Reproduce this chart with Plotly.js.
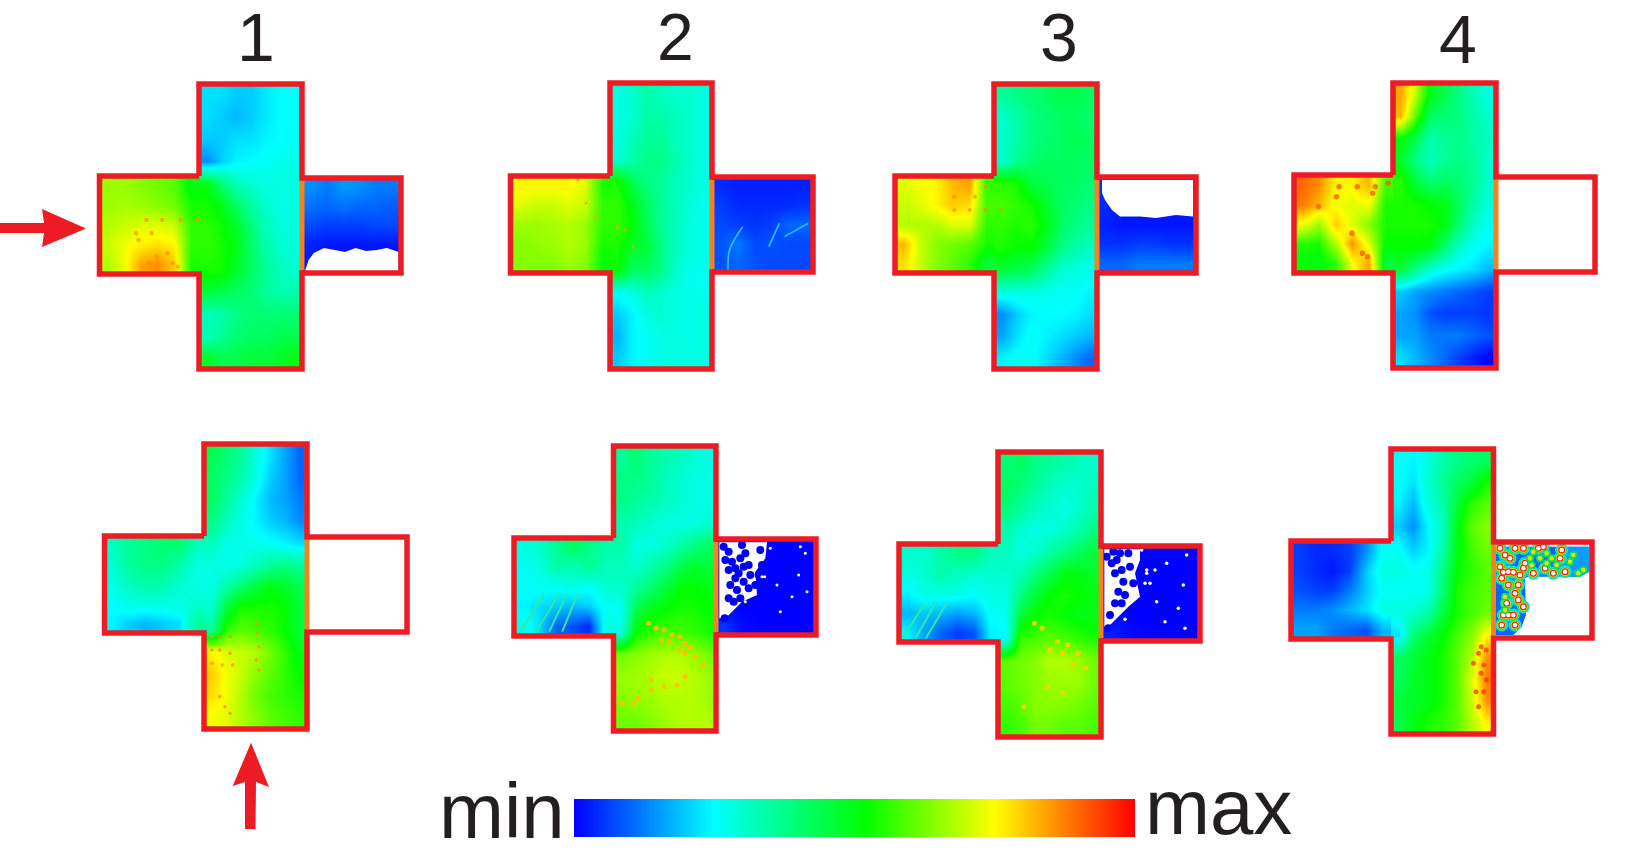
<!DOCTYPE html>
<html><head><meta charset="utf-8">
<script src="https://cdn.plot.ly/plotly-3.0.1.min.js"></script>
<style>html,body{margin:0;padding:0;background:#fff}#chart{width:1630px;height:864px}</style>
</head><body><div id="chart"></div>
<script>
// Field intensity, 0 = min, 100 = max. Rows run top to bottom.
const c1Vert=[[22,22,20,20,23,25,25],[22,20,18,20,23,25,25],[20,20,22,22,24,25,26],[14,20,24,25,26,27,27],[50,40,32,30,28,28,28],[54,50,42,35,30,28,28],[56,53,48,40,32,29,28],[56,54,50,42,34,30,29],[54,54,48,42,36,32,30],[46,44,42,40,36,34,34],[32,34,38,40,40,40,40],[32,36,40,42,42,44,44],[48,44,44,46,46,48,50]];
const c1Left=[[66,66,64,62,60,50],[66,67,66,64,62,54],[68,70,72,72,70,56],[70,74,76,78,76,56],[68,74,84,86,80,54]];
const c1Right=[[14,12,15,14,12,12],[11,10,11,10,10,9],[7,6,6,6,7,7],[3,2,2,2,2,2],[2,2,2,2,2,2]];
const c2Vert=[[28,30,34,32,30,30,28],[28,30,34,34,32,30,28],[28,32,36,36,32,30,28],[30,34,38,38,34,30,28],[54,44,38,36,32,30,28],[56,50,42,36,32,29,27],[56,52,44,36,32,28,27],[54,48,46,38,32,28,27],[52,42,42,38,30,27,27],[26,28,32,30,28,27,27],[20,24,28,30,28,27,28],[18,24,26,28,28,27,28],[20,24,26,28,28,28,28]];
const c2Left=[[76,76,76,76,72,54],[72,70,70,72,70,56],[66,66,67,68,66,56],[64,65,66,68,66,54],[64,64,64,66,64,52]];
const c2Right=[[4,3,3,3,3,3],[6,4,4,4,4,5],[7,6,5,6,10,10],[8,12,7,8,7,7],[8,10,8,7,7,7]];
const c3Vert=[[36,38,40,42,44,44,42],[30,34,38,40,42,42,40],[30,34,38,40,42,44,42],[30,36,40,42,42,42,42],[56,54,46,44,42,42,40],[58,56,54,48,42,40,38],[56,54,56,50,42,38,36],[54,52,52,46,38,34,32],[46,44,42,36,30,28,27],[28,28,28,27,26,26,24],[14,20,24,25,25,24,22],[16,22,26,24,22,20,18],[24,26,26,22,18,14,10]];
const c3Left=[[72,74,76,82,84,56],[70,72,76,80,78,58],[68,68,68,72,72,56],[82,70,64,62,60,54],[78,70,64,60,56,46]];
const c3Right=[[4,4,4,4,4,4],[4,3,3,3,3,3],[3,2,2,2,2,2],[5,5,6,6,5,5],[10,10,12,12,12,12]];
const c4Vert=[[84,70,50,44,38,32,28],[82,60,42,40,38,34,30],[52,44,34,36,38,34,32],[48,38,32,36,38,36,30],[56,46,40,42,40,36,30],[54,54,52,50,42,34,28],[54,54,54,50,40,30,26],[52,52,50,40,30,26,24],[46,38,30,26,24,22,18],[20,16,14,12,10,8,6],[16,14,8,6,6,6,5],[16,16,12,12,12,10,8],[22,18,14,10,6,3,0]];
const c4Left=[[90,86,76,76,82,58],[88,82,74,72,74,54],[74,66,80,72,64,54],[55,54,68,86,72,52],[52,50,56,74,84,46]];
const c5Vert=[[44,40,36,28,22,16,10],[42,38,34,28,20,16,10],[42,36,30,24,18,16,12],[38,32,28,24,20,18,14],[32,28,27,27,26,24,22],[28,27,28,32,36,38,36],[28,34,40,46,50,48,44],[30,46,54,54,54,52,46],[36,56,60,58,56,52,46],[76,72,70,68,62,56,50],[80,74,70,64,60,56,52],[78,74,68,62,58,56,54],[74,72,68,64,60,58,56]];
const c5Left=[[32,36,38,40,40,32],[30,36,38,38,34,28],[28,32,34,34,30,28],[25,28,28,28,28,30],[24,20,18,20,22,36]];
const c6Vert=[[36,40,36,34,32,30,28],[38,38,36,32,30,28,28],[38,36,34,32,30,28,28],[34,32,30,28,28,28,30],[34,28,28,30,34,38,42],[32,30,34,38,44,48,46],[30,36,40,46,52,52,50],[26,44,50,52,54,54,52],[28,52,56,58,58,56,54],[62,64,66,68,68,66,62],[66,66,68,70,70,68,66],[64,66,66,68,68,68,66],[62,62,64,66,68,68,68]];
const c6Left=[[28,30,36,42,38,34],[26,28,34,32,36,32],[26,26,26,28,26,30],[24,22,20,18,20,26],[28,22,10,8,4,28]];
const c6Right=[[0,0,0,0,0,0],[0,0,0,0,0,0],[0,0,0,0,0,0],[0,0,0,0,0,0],[5,1,0,0,0,0]];
const c7Vert=[[40,42,38,36,34,32,30],[42,40,36,32,30,30,32],[40,36,32,30,28,30,34],[34,30,28,28,30,34,38],[32,28,30,34,38,42,46],[30,32,38,44,50,50,48],[28,38,46,52,54,52,50],[26,46,52,54,52,50,50],[24,56,58,60,58,56,54],[60,62,64,68,68,66,62],[60,62,64,66,66,66,62],[58,60,64,64,64,62,60],[56,58,62,62,60,60,58]];
const c7Left=[[30,30,34,38,38,32],[28,30,34,32,30,30],[24,28,28,28,26,28],[18,20,18,16,18,26],[24,16,10,6,8,24]];
const c7Right=[[0,0,0,0,0,0],[0,0,0,0,0,0],[0,0,0,0,0,0],[0,0,0,0,0,0],[3,1,0,0,0,0]];
const c8Vert=[[26,24,28,34,38,40,42],[26,22,30,36,42,46,54],[24,18,28,34,46,56,60],[20,14,24,32,50,60,64],[26,20,24,34,50,58,62],[28,26,27,38,52,56,60],[26,26,27,40,54,58,60],[28,30,34,46,54,58,62],[22,40,46,52,58,64,76],[42,46,50,54,60,68,86],[42,48,50,54,60,72,88],[46,48,50,54,60,70,86],[44,50,54,56,60,68,76]];
const c8Left=[[6,4,4,6,14,26],[6,4,2,6,20,28],[8,6,6,12,20,26],[12,12,14,18,22,28],[16,16,12,10,8,18]];
const columnLabels=['1','2','3','4'];
const scaleLabels=['min','max'];

// Frame geometry of the eight crosses, in image pixels.
const crosses=[
 {l:99.5,vl:199,vr:302,r:401,t:84,b:369,ht:176,hb:274,rt:178,rb:273,vert:c1Vert,left:c1Left,right:c1Right},
 {l:510.5,vl:610,vr:712,r:813,t:83,b:369,ht:176,hb:273,rt:177,rb:272,vert:c2Vert,left:c2Left,right:c2Right},
 {l:895,vl:994,vr:1097,r:1196,t:84,b:369,ht:176,hb:273,rt:177,rb:273,vert:c3Vert,left:c3Left,right:c3Right},
 {l:1294,vl:1393,vr:1496,r:1595,t:83,b:368,ht:175,hb:273,rt:177,rb:272,vert:c4Vert,left:c4Left,right:null},
 {l:104.5,vl:204,vr:307,r:407,t:444,b:729,ht:536,hb:633,rt:537,rb:632,vert:c5Vert,left:c5Left,right:null},
 {l:514,vl:613.5,vr:716,r:816,t:446,b:731,ht:538,hb:636,rt:539,rb:635,vert:c6Vert,left:c6Left,right:c6Right},
 {l:899,vl:998,vr:1101,r:1200,t:452,b:737,ht:544,hb:642,rt:546,rb:641,vert:c7Vert,left:c7Left,right:c7Right},
 {l:1291,vl:1391,vr:1493.5,r:1592,t:449,b:734,ht:541,hb:639,rt:542,rb:638,vert:c8Vert,left:c8Left,right:null}
];
const RED='#ed1c24', ORANGE='#f58220', BLUE='#0000f0';
const traces=[];
function heat(z,x1,x2,y1,y2){
  const nr=z.length,nc=z[0].length,dx=(x2-x1)/nc,dy=(y2-y1)/nr;
  traces.push({type:'heatmap',z:z,x0:x1+dx/2,dx:dx,y0:y1+dy/2,dy:dy,zsmooth:'best',coloraxis:'coloraxis',hoverinfo:'skip'});
}
crosses.forEach(c=>{
  heat(c.vert,c.vl,c.vr,c.t,c.b);
  heat(c.left,c.l,c.vl,c.ht,c.hb);
  if(c.right) heat(c.right,c.vr,c.r,c.rt,c.rb);
});
function poly(xs,ys,fill){traces.push({type:'scatter',mode:'lines',x:xs,y:ys,fill:'toself',fillcolor:fill,line:{width:0,color:fill},hoverinfo:'skip'});}
function line(xs,ys,color,w){traces.push({type:'scatter',mode:'lines',x:xs,y:ys,line:{color:color,width:w,shape:'spline'},hoverinfo:'skip'});}
function dots(pts,color,size,op,sx,x0,sy,y0){
  traces.push({type:'scatter',mode:'markers',x:pts.map(p=>x0+p[0]/sx),y:pts.map(p=>y0+p[1]/sy),marker:{color:color,size:size,opacity:op,line:{width:0}},hoverinfo:'skip'});
}
const crop=[[1.912,0,3,0],[1.936,820,3,0],[1.912,0,3,420],[1.936,820,3,420]];
function cropDots(pts,color,size,op,i){dots(pts,color,size,op,crop[i][0],crop[i][1],crop[i][2],crop[i][3]);}

// Speckle and ripple detail
cropDots([[280,660],[310,660],[345,660],[378,658],[260,700],[290,700],[265,720],[300,770],[330,790],[285,790],[340,800],[320,760]],'#ff9000',4.5,.7,0);
cropDots([[1120,610],[1140,650],[1180,680],[1105,540],[1145,540],[1195,690],[1210,740]],'#ffa000',3.5,.7,0);
cropDots([[260,630],[290,630],[320,630],[350,630],[260,590],[300,590],[320,560]],'#ff8c00',4,.7,1);
cropDots([[1005,560],[1040,560],[1075,560],[1100,550],[965,620],[1000,590],[1070,580],[1030,700],[1050,760],[1060,770]],'#f25a00',5.5,.75,1);
cropDots([[405,650],[420,650],[440,650],[405,690],[420,690],[440,700],[405,730],[425,735],[445,735],[490,610],[492,640],[495,680],[490,720],[495,750],[430,860],[440,880],[420,830]],'#ff9000',3.5,.8,2);
cropDots([[1240,610],[1255,625],[1270,630],[1285,645],[1300,650],[1265,660],[1280,665],[1310,670],[1320,680],[1300,690],[1330,710],[1310,700],[1345,735],[1310,770],[1295,795],[1270,800],[1245,780],[1220,835],[1245,810],[1190,850],[1210,850]],'#ffc000',5,.9,2);
cropDots([[415,610],[430,625],[460,665],[480,675],[445,690],[470,700],[500,700],[515,745],[490,735],[470,820],[395,860],[440,800]],'#ffd000',5,.9,3);
cropDots([[1280,680],[1290,690],[1285,735],[1290,780],[1270,815],[1285,815],[1275,860],[1265,730],[1275,700],[1280,760]],'#f03a00',5,.75,3);
// streaks
[[[1392,810],[1395,750],[1420,680]],[[1470,740],[1490,670]],[[1500,710],[1545,670]]].forEach(s=>
  line(s.map(p=>p[0]/1.912),s.map(p=>p[1]/3),'#30c0ff',1.6));
[[[995,635],[1040,520]],[[1025,635],[1070,520]],[[1050,635],[1085,520]],[[1075,635],[1105,520]]].forEach(s=>
  line(s.map(p=>p[0]/1.912),s.map(p=>420+p[1]/3),'#30e8a0',2));
[[[160,655],[205,545]],[[185,655],[225,545]],[[205,655],[245,550]]].forEach(s=>
  line(s.map(p=>820+p[0]/1.936),s.map(p=>420+p[1]/3),'#30e8a0',2));

// C1 white gap
poly([305,308.6,313.8,324,334.7,345,355.6,366,376.6,387,398.5,398.5,305],[271,260,253,248,250,252,248,251,250,248,252,271,271],'#ffffff');
// C3 white gap
poly([1102,1193,1193,1176,1156,1140,1120,1112,1105,1102],[180,180,216.5,215,218,216.5,216.5,210,200,193],'#ffffff');
// C6 white and blue speckle
const ox6=712,oy6=535;
poly([22,165,160,130,135,90,45,22].map(v=>ox6+v/3),[22,22,70,110,180,200,245,250].map(v=>oy6+v/3),'#ffffff');
dots([[35,35],[50,50],[40,75],[60,80],[70,100],[50,105],[90,30],[100,55],[85,70],[95,95],[80,115],[110,90],[115,120],[70,130],[95,140],[55,150],[75,165],[110,160],[50,190],[65,200],[85,190],[145,45],[150,90],[140,120],[130,150],[38,250]],BLUE,8,1,3,ox6,3,oy6);
dots([[260,120],[240,185],[195,150],[285,170],[175,40],[265,35],[150,125],[280,55],[205,230],[158,125],[100,200]],'#ffffff',3,1,3,ox6,3,oy6);
// C7 white and blue speckle
const ox7=1095,oy7=540;
poly([28,135,135,120,135,100,45,28].map(v=>ox7+v/3),[28,28,60,100,170,200,255,260].map(v=>oy7+v/3),'#ffffff');
dots([[35,50],[50,70],[65,60],[80,90],[60,100],[100,40],[75,40],[55,35],[105,80],[85,125],[70,155],[90,165],[60,190],[80,190],[115,130],[45,225],[110,210],[40,265]],BLUE,8,1,3,ox7,3,oy7);
dots([[155,90],[155,100],[180,90],[265,135],[150,130],[165,130],[185,185],[250,205],[90,238],[210,245],[270,265],[215,70],[120,175],[275,45],[140,30]],'#ffffff',3.5,1,3,ox7,3,oy7);
// C8 ring pattern
const ox8=1490,oy8=535;
poly([18,298,298,270,115,105,108,95,70,18].map(v=>ox8+v/3),[35,35,110,125,125,130,240,275,300,300].map(v=>oy8+v/3),'#0868f4');
poly([200,298,298,270,210].map(v=>ox8+v/3),[35,35,110,125,125].map(v=>oy8+v/3),'#0a9cf8');
const rings=[[60,70],[55,110],[40,112],[70,112],[55,150],[50,205],[55,240],[40,240],[70,240],[105,85],[100,100],[85,150],[90,120],[35,130],[30,95],[75,40],[45,60],[35,270],[75,270],[210,70],[165,100],[190,115],[130,115],[145,40],[215,45],[30,40],[100,40],[160,35],[75,175],[85,195],[100,215],[225,110]];
[[13,'#00e8f0'],[10.5,'#20e040'],[8.5,'#f8e800'],[7,'#f02010'],[4.5,'#ffffff']].forEach(l=>dots(rings,l[1],l[0],1,3,ox8,3,oy8));
const rippleDots=[[120,70],[150,70],[185,70],[170,55],[170,85],[240,80],[265,115],[280,105],[250,60],[45,185],[45,225],[130,50],[125,90],[200,90]];
[[8,'#00e060'],[4.5,'#f0e000']].forEach(l=>dots(rippleDots,l[1],l[0],1,3,ox8,3,oy8));

// Frames
crosses.forEach(c=>{
  traces.push({type:'scatter',mode:'lines',
    x:[c.vl,c.l,c.l,c.vl,c.vl,c.vr,c.vr,c.r,c.r,c.vr,c.vr,c.vl,c.vl],
    y:[c.ht,c.ht,c.hb,c.hb,c.b,c.b,c.rb,c.rb,c.rt,c.rt,c.t,c.t,c.ht],
    line:{color:RED,width:5.5},hoverinfo:'skip'});
  traces.push({type:'scatter',mode:'lines',x:[c.vr,c.vr],y:[c.rt+3,c.rb-3],line:{color:ORANGE,width:5},hoverinfo:'skip'});
});
// Incident arrows
poly([0,44,42,86,42,44,0],[223,223,209,228.5,247,233,233],RED);
poly([251,269,256,255.5,245,245,232.7],[742.7,787,782,829,829,782,786],RED);

const ann=(t,x,y,size,xa)=>({text:t,x:x,y:y,xref:'x',yref:'y',showarrow:false,xanchor:xa,yanchor:'middle',font:{family:'Liberation Sans, Arial, sans-serif',size:size,color:'#231f20'}});
const annotations=[
  ann(columnLabels[0],256,37,68,'center'),ann(columnLabels[1],675,37,66,'center'),
  ann(columnLabels[2],1059,37,68,'center'),ann(columnLabels[3],1458,39,68,'center'),
  ann(scaleLabels[0],437,811,78,'left'),ann(scaleLabels[1],1143,807,78,'left')
];
Plotly.newPlot('chart',traces,{
  width:1630,height:864,margin:{l:0,r:0,t:0,b:0,pad:0,autoexpand:false},
  paper_bgcolor:'#fff',plot_bgcolor:'#fff',showlegend:false,
  xaxis:{range:[0,1630],visible:false,fixedrange:true},
  yaxis:{range:[864,0],visible:false,fixedrange:true},
  coloraxis:{cmin:0,cmax:100,
    colorscale:[[0,'#0000ff'],[0.25,'#00ffff'],[0.52,'#00ff00'],[0.75,'#ffff00'],[1,'#ff0000']],
    colorbar:{orientation:'h',lenmode:'pixels',len:561,thicknessmode:'pixels',thickness:38,
      x:854.5/1630,xanchor:'center',y:1-818/864,yanchor:'middle',xpad:0,ypad:0,outlinewidth:0,borderwidth:0,
      ticks:'',showticklabels:false}},
  annotations:annotations
},{displayModeBar:false,staticPlot:true});
</script></body></html>
